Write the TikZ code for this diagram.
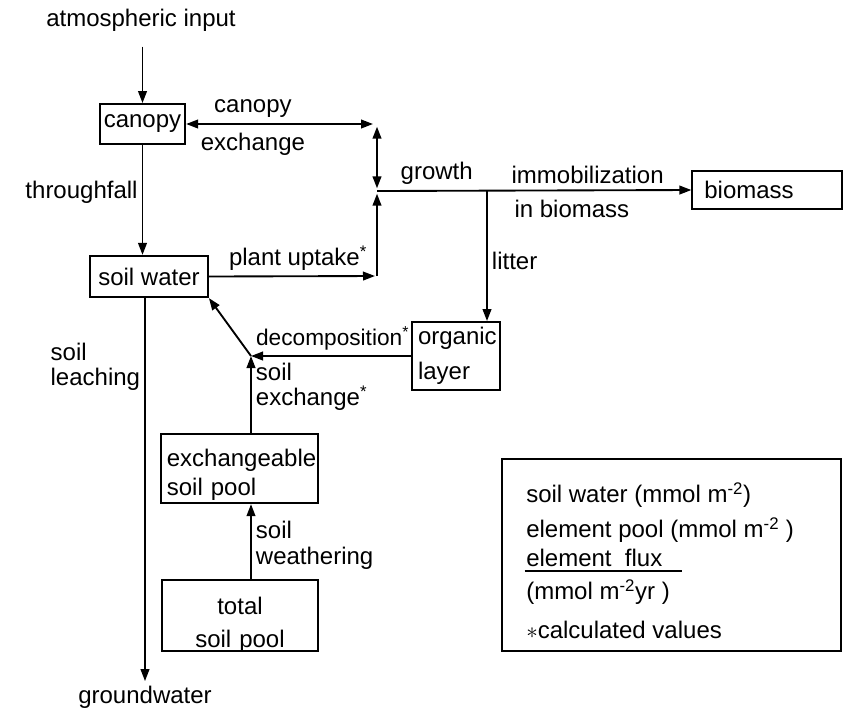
\documentclass[tikz,border=0pt]{standalone}
\usepackage{fontspec}
\setmainfont{Liberation Sans}
\usetikzlibrary{positioning,arrows.meta}

\begin{document}
\begin{tikzpicture}[x=0.75pt, y=-0.75pt, font=\fontsize{18}{22}\selectfont,
  box/.style={draw, line width=1.4pt, inner sep=0pt, align=center},
  lbox/.style={box, inner xsep=4.5pt, align=left},
  arr/.style={-{Triangle[length=9pt,width=6.5pt]}, line width=1.4pt},
  arr2/.style={{Triangle[length=9pt,width=6.5pt]}-{Triangle[length=9pt,width=6.5pt]}, line width=1.4pt},
  lbl/.style={inner sep=3pt, align=left}]
\useasboundingbox (0,0) rectangle (843,708);

% pools
\node[box, minimum width=64pt, minimum height=30pt] (canopy) at (142.5,124) {canopy};
\node[box, minimum width=88.5pt, minimum height=31pt] (soil) at (149,276.5) {soil water};
\node[lbox, text width=94pt, inner xsep=9pt, minimum height=28.5pt] (biomass) at (767,190) {biomass};
\node[lbox, text width=57pt, minimum height=51pt, font=\fontsize{18}{26}\selectfont] (organic) at (456,356) {organic\\ layer};
\node[lbox, text width=109pt, minimum height=52pt, text height=18pt, text depth=21pt] (exch) at (239.5,468.5) {exchangeable\\ soil pool};
\node[box, text width=108pt, inner xsep=4.5pt, minimum height=53pt, font=\fontsize{18}{25}\selectfont, text height=20pt, text depth=22pt] (total) at (240,615.5) {total\\ soil pool};
\node[box, minimum width=254pt, minimum height=144pt] (legend) at (671.5,555) {};

% sources and sinks
\node (atm) at (141,20) {atmospheric input};
\node (gw) at (145,697) {groundwater};

% junctions
\coordinate (cx) at (377,124);
\coordinate (jn) at (377,191);
\coordinate (pu) at (377,276);
\coordinate (lt) at (487,191);
\coordinate (dj) at (251,356);

% fluxes
\draw[arr] ([yshift=-8pt]atm.south -| canopy.north) -- (canopy.north);
\draw[arr] (canopy.south) -- node[lbl, left, pos=.43]{throughfall} (canopy.south |- soil.north);
\draw[arr2, shorten >=3pt] (canopy.east) -- node[above=1pt, pos=.35]{canopy} node[below=3pt, pos=.35]{exchange} (cx);
\draw[arr2, shorten <=2pt, shorten >=2pt] (cx) -- (jn);
\draw[arr, shorten >=1.5pt] (soil.east) -- node[above, pos=.53]{plant uptake\textsuperscript{*}} (pu);
\draw[arr, shorten >=2pt] (pu) -- (jn);
\draw[arr] (jn) -- node[above=1pt, pos=.19]{growth} node[above=1pt, pos=.67]{immobilization} node[below=3pt, pos=.62]{in biomass} (biomass.west);
\draw[arr] (lt) -- node[lbl, right, pos=.54]{litter} (lt |- organic.north);
\draw[arr] (organic.west) -- node[above, pos=.49, font=\fontsize{17}{20}\selectfont]{decomposition\textsuperscript{*}} (dj);
\draw[arr] (dj) -- (soil.south east);
\draw[arr] (exch.north -| dj) -- node[lbl, right, pos=.6, font=\fontsize{18}{19}\selectfont]{soil\\ exchange\textsuperscript{*}} (dj);
\draw[arr] (total.north -| dj) -- node[lbl, right, pos=.45, font=\fontsize{18}{20}\selectfont]{soil\\ weathering} (exch.south -| dj);
\draw[arr] (soil.south -| gw.north) -- node[lbl, left, pos=.18, font=\fontsize{18}{19}\selectfont]{soil\\ leaching} (gw.north);

% legend
\node[lbl, anchor=west] (lgwater) at (522,495) {soil water (mmol m\textsuperscript{-2})};
\node[lbl, anchor=west] (lgpool) at (522,530) {element pool (mmol m\textsuperscript{-2} )};
\node[lbl, anchor=west] (lgflux) at (522,558) {element\ \ flux};
\node[lbl, anchor=west] (lgunit) at (522,592) {(mmol m\textsuperscript{-2}yr )};
\node[lbl, anchor=west] (lgcalc) at (522,630) {$\ast$calculated values};
\draw[line width=1.4pt] ([xshift=2pt]lgflux.south west) -- ([xshift=6pt]lgflux.south west -| lgunit.east);
\end{tikzpicture}
\end{document}
